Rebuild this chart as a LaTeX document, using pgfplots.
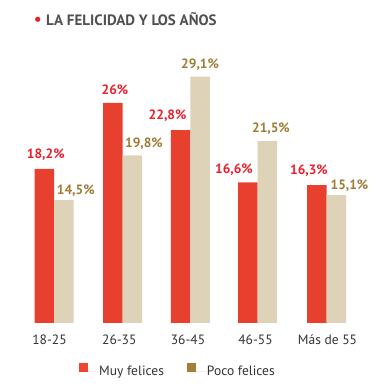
\documentclass[border=0pt]{standalone}
\usepackage{fontspec}
\setmainfont{PT Sans}
\usepackage{pgfplots}
\pgfplotsset{compat=1.18}
\definecolor{barred}{HTML}{E8402E}
\definecolor{barbeige}{HTML}{DED3B9}
\definecolor{lblred}{HTML}{E8202C}
\definecolor{lblgold}{HTML}{9E7C34}
\definecolor{legred}{HTML}{EE4431}
\definecolor{leggold}{HTML}{A57C38}
\definecolor{titlegray}{HTML}{505050}
\definecolor{tickgray}{HTML}{333333}
\begin{document}
\begin{tikzpicture}[x=1pt,y=1pt]
\path[use as bounding box] (0,0) rectangle (375,390);
\fill[lblred] (37.7,370.7) circle (2.6);
\node[anchor=base west, inner sep=0pt, font=\bfseries\fontsize{15}{17}\selectfont, text=titlegray] at (46,364.3) {LA FELICIDAD Y LOS AÑOS};
\begin{axis}[
  at={(0,79.3)}, anchor=south west,
  scale only axis, width=375pt, height=253.8pt,
  xmin=0, xmax=375, ymin=0, ymax=30,
  axis line style={draw=none}, tick style={draw=none},
  ytick=\empty,
  xtick={49.5,119.3,188,255.5,327.5},
  xticklabels={18-25,26-35,36-45,46-55,Más de 55},
  x tick label style={font=\fontsize{13.5}{15}\selectfont, text=tickgray, anchor=base, inner sep=0pt, yshift=-17.3pt},
  ybar, bar width=19.5pt,
  clip=false,
  visualization depends on={\thisrow{dx} \as \dx},
  visualization depends on={\thisrow{dy} \as \dy},
  legend image code/.code={\fill[#1] (0pt,-0.7pt) rectangle (9pt,8.3pt); \path (0pt,0pt) -- (20pt,0pt);},
  legend style={at={(0.2107,-0.1848)}, anchor=west, draw=none, fill=none, inner sep=0pt,
    legend columns=2, font=\fontsize{13.5}{15}\selectfont, text=tickgray,
    nodes={inner sep=0pt},
    /tikz/every even column/.append style={column sep=23pt}},
]
\addplot[fill=barred, draw=none, bar shift=-9.75pt, forget plot,
  nodes near coords={\pgfmathprintnumber[fixed,precision=1,use comma,assume math mode=true]{\pgfplotspointmeta}\%},
  nodes near coords style={anchor=base, inner sep=0pt, text=lblred, font=\bfseries\fontsize{13.5}{15}\selectfont, xshift=\dx pt, yshift=\dy pt}]
  table {
x y dx dy
54 18.2 1.5 10
122.7 26 2 8.7
190.3 22.8 -13 10.3
257.7 16.6 -14 8.7
326.7 16.3 -8 10.7
};
\addplot[fill=barbeige, draw=none, bar shift=9.75pt, forget plot,
  nodes near coords={\pgfmathprintnumber[fixed,precision=1,use comma,assume math mode=true]{\pgfplotspointmeta}\%},
  nodes near coords style={anchor=base, inner sep=0pt, text=lblgold, font=\bfseries\fontsize{13.5}{15}\selectfont, xshift=\dx pt, yshift=\dy pt}]
  table {
x y dx dy
54 14.5 12 5.7
122.7 19.8 11.5 8
190.3 29.1 0 8.3
257.7 21.5 3.5 8.3
326.7 15.1 13 5.3
};
\addlegendimage{fill=legred,draw=none}
\addlegendentry{Muy felices}
\addlegendimage{fill=leggold,draw=none}
\addlegendentry{Poco felices}
\end{axis}
\end{tikzpicture}
\end{document}
